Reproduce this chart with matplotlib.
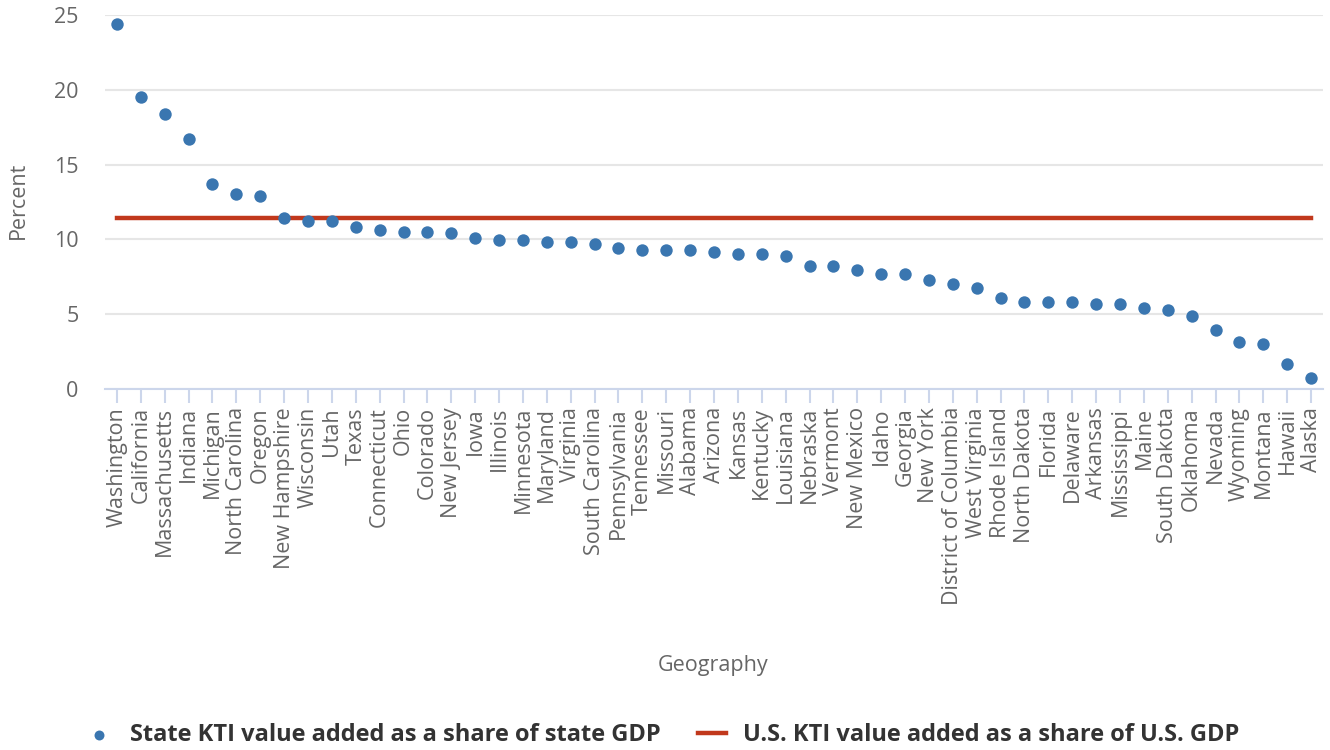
import matplotlib
matplotlib.use("Agg")
import matplotlib.pyplot as plt

plt.rcParams['font.family'] = ['Open Sans', 'DejaVu Sans']

# states sorted by KTI share of GDP
states = ["Washington", "California", "Massachusetts", "Indiana", "Michigan",
          "North Carolina", "Oregon", "New Hampshire", "Wisconsin", "Utah",
          "Texas", "Connecticut", "Ohio", "Colorado", "New Jersey", "Iowa",
          "Illinois", "Minnesota", "Maryland", "Virginia", "South Carolina",
          "Pennsylvania", "Tennessee", "Missouri", "Alabama", "Arizona",
          "Kansas", "Kentucky", "Louisiana", "Nebraska", "Vermont",
          "New Mexico", "Idaho", "Georgia", "New York", "District of Columbia",
          "West Virginia", "Rhode Island", "North Dakota", "Florida",
          "Delaware", "Arkansas", "Mississippi", "Maine", "South Dakota",
          "Oklahoma", "Nevada", "Wyoming", "Montana", "Hawaii", "Alaska"]
state_share = [24.4, 19.5, 18.4, 16.7, 13.7, 13.05, 12.9, 11.45, 11.2, 11.2,
               10.8, 10.65, 10.5, 10.5, 10.4, 10.1, 9.97, 9.97, 9.83, 9.83,
               9.7, 9.45, 9.3, 9.3, 9.3, 9.17, 9.03, 9.03, 8.9, 8.22, 8.22,
               7.95, 7.7, 7.7, 7.3, 7.02, 6.75, 6.08, 5.82, 5.82, 5.82, 5.68,
               5.68, 5.4, 5.28, 4.88, 3.95, 3.15, 3.0, 1.67, 0.75]
us_share = 11.43
y_ticks = [0, 5, 10, 15, 20, 25]

fig = plt.figure(figsize=(13.3, 7.5), dpi=100)
ax = fig.add_axes([105 / 1330, 1 - 389 / 750, 1218 / 1330, 374 / 750])

x = list(range(len(states)))
ax.plot(x, [us_share] * len(states), color="#c1381c", lw=3.2, zorder=2,
        label="U.S. KTI value added as a share of U.S. GDP")
ax.scatter(x, state_share, s=80, color="#3a76b0", zorder=3, linewidths=0,
           label="State KTI value added as a share of state GDP")

ax.set_xlim(-0.5, len(states) - 0.5)
ax.set_ylim(0, 25)
ax.set_yticks(y_ticks)
ax.set_xticks(x)
ax.set_xticklabels(states, rotation=90, ha="center", va="top")
ax.grid(axis="y", color="#e6e6e6", lw=1.5)
ax.set_axisbelow(True)
for s in ["top", "right", "left"]:
    ax.spines[s].set_visible(False)
ax.spines["bottom"].set_color("#ccd6eb")
ax.spines["bottom"].set_linewidth(1.5)
ax.tick_params(axis="x", length=10, width=1.5, color="#ccd6eb",
               labelsize=15.5, labelcolor="#666666", pad=3)
ax.tick_params(axis="y", length=0, labelsize=15.5, labelcolor="#666666", pad=19)

fig.text(18 / 1330, 1 - 200 / 750, "Percent", rotation=90, ha="center",
         va="center", fontsize=15.5, color="#666666")
fig.text(713 / 1330, 1 - 666 / 750, "Geography", ha="center", va="center",
         fontsize=15.5, color="#666666")

handles, labels = ax.get_legend_handles_labels()
leg = fig.legend(handles[::-1], labels[::-1], loc="center",
                 bbox_to_anchor=(662 / 1330, 1 - 735 / 750), ncol=2,
                 frameon=False, handlelength=1.2, columnspacing=1.6,
                 handletextpad=0.7, markerscale=0.8,
                 prop={"size": 17, "weight": "bold"})
for t in leg.get_texts():
    t.set_color("#333333")

fig.savefig("out.png", dpi=100)
